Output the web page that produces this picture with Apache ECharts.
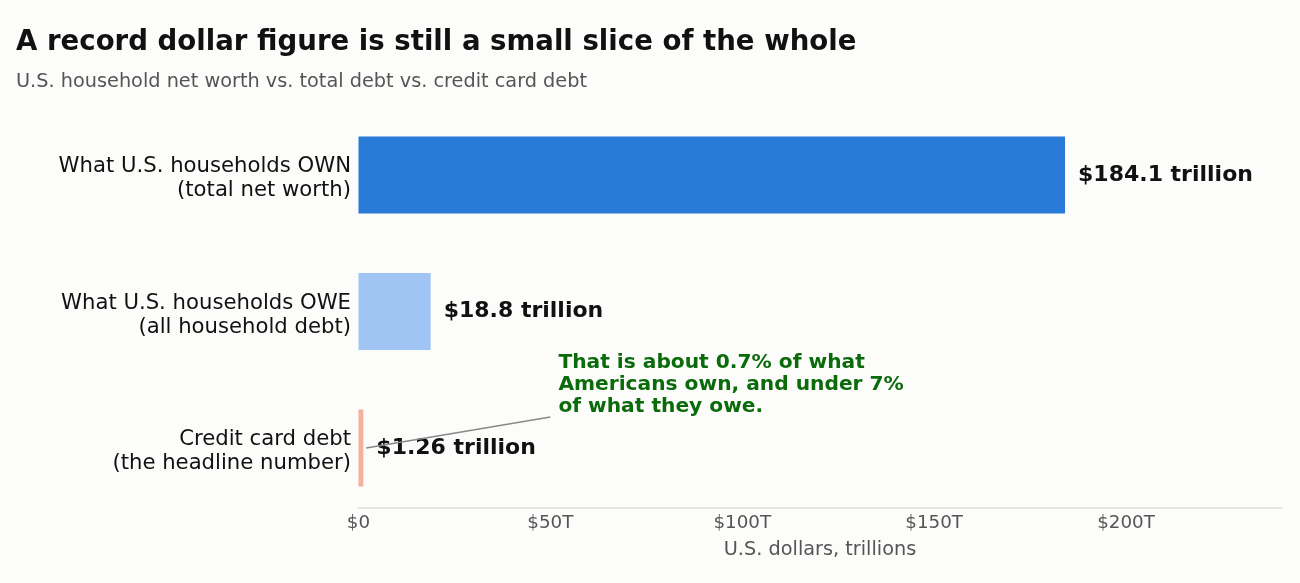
<!DOCTYPE html>
<html>
<head>
<meta charset="utf-8">
<script src="https://cdn.jsdelivr.net/npm/echarts@6/dist/echarts.min.js"></script>
<style>
  html, body { margin:0; padding:0; background:#fcfcfb; }
  #chart { width:1300px; height:583px; }
</style>
</head>
<body>
<div id="chart"></div>
<script>
const categories = [
  "What U.S. households OWN\n(total net worth)",
  "What U.S. households OWE\n(all household debt)",
  "Credit card debt\n(the headline number)"
];
const values = [184.1, 18.8, 1.26];
const valueLabels = ["$184.1 trillion", "$18.8 trillion", "$1.26 trillion"];
const barColors = ["#2979d6", "#a0c4f4", "#f4b09a"];
const xTicks = [0, 50, 100, 150, 200];
const xTickLabels = ["$0", "$50T", "$100T", "$150T", "$200T"];
const xMax = 240.5;
const annotationText = "That is about 0.7% of what\nAmericans own, and under 7%\nof what they owe.";
const annotationFrom = [2, 2];   // [x value, category index]
const annotationTo = [50, 2];

const FONT = "DejaVu Sans";
const chart = echarts.init(document.getElementById('chart'));

const option = {
  backgroundColor: '#fcfcfb',
  animation: false,
  textStyle: { fontFamily: FONT },
  title: {
    text: 'A record dollar figure is still a small slice of the whole',
    subtext: 'U.S. household net worth vs. total debt vs. credit card debt',
    left: 11, top: 24,
    itemGap: 15,
    textStyle: { fontFamily: FONT, fontSize: 27.6, fontWeight: 'bold', color: '#111' },
    subtextStyle: { fontFamily: FONT, fontSize: 19.3, color: '#555' }
  },
  grid: { left: 358.5, right: 18.5, top: 106.75, bottom: 66.75, containLabel: false },
  xAxis: {
    type: 'value',
    min: 0, max: xMax, interval: 50,
    offset: -9,
    axisLine: { show: true, lineStyle: { color: '#dddddd', width: 1.5 } },
    axisTick: { show: false },
    splitLine: { show: false },
    axisLabel: {
      margin: 7,
      fontFamily: FONT, fontSize: 18.3, color: '#555',
      customValues: xTicks,
      formatter: function (v) {
        const i = xTicks.indexOf(v);
        return i >= 0 ? xTickLabels[i] : '';
      }
    },
    name: 'U.S. dollars, trillions',
    nameLocation: 'middle',
    nameGap: 33,
    nameTextStyle: { fontFamily: FONT, fontSize: 19.3, color: '#555' }
  },
  yAxis: {
    type: 'category',
    data: categories,
    inverse: true,
    axisLine: { show: false },
    axisTick: { show: false },
    axisLabel: { show: false }
  },
  series: [{
    type: 'bar',
    barWidth: 77,
    data: values.map(function (v, i) {
      return { value: v, itemStyle: { color: barColors[i] } };
    }),
    label: {
      show: true,
      position: 'right',
      distance: 13,
      fontFamily: FONT, fontSize: 22, fontWeight: 'bold', color: '#111',
      formatter: function (p) { return valueLabels[p.dataIndex]; }
    }
  }]
};
chart.setOption(option);

const toPx = function (pt) { return chart.convertToPixel({ gridIndex: 0 }, pt); };
const pFrom = toPx(annotationFrom);
const pTo = toPx(annotationTo);
const bandH = toPx([0, 1])[1] - toPx([0, 0])[1];
const toY = pTo[1] - bandH * 0.227;

const catLabelGraphics = categories.map(function (c, i) {
  const p = toPx([0, i]);
  return {
    type: 'text', z: 100,
    x: p[0] - 7.5, y: p[1] + 3.5,
    style: {
      text: c, fontFamily: FONT, fontSize: 21.2, fill: '#111',
      lineHeight: 24, align: 'right', verticalAlign: 'middle'
    }
  };
});

chart.setOption({
  graphic: catLabelGraphics.concat([
    {
      type: 'line', z: 100,
      shape: { x1: pFrom[0], y1: pFrom[1], x2: pTo[0], y2: toY },
      style: { stroke: '#888', lineWidth: 1.5 }
    },
    {
      type: 'text', z: 100,
      x: pTo[0] + 8, y: toY - 65,
      style: {
        text: annotationText,
        fontFamily: FONT, fontSize: 20.2, fontWeight: 'bold',
        fill: '#0b6b0b', lineHeight: 22
      }
    }
  ])
});
</script>
</body>
</html>
